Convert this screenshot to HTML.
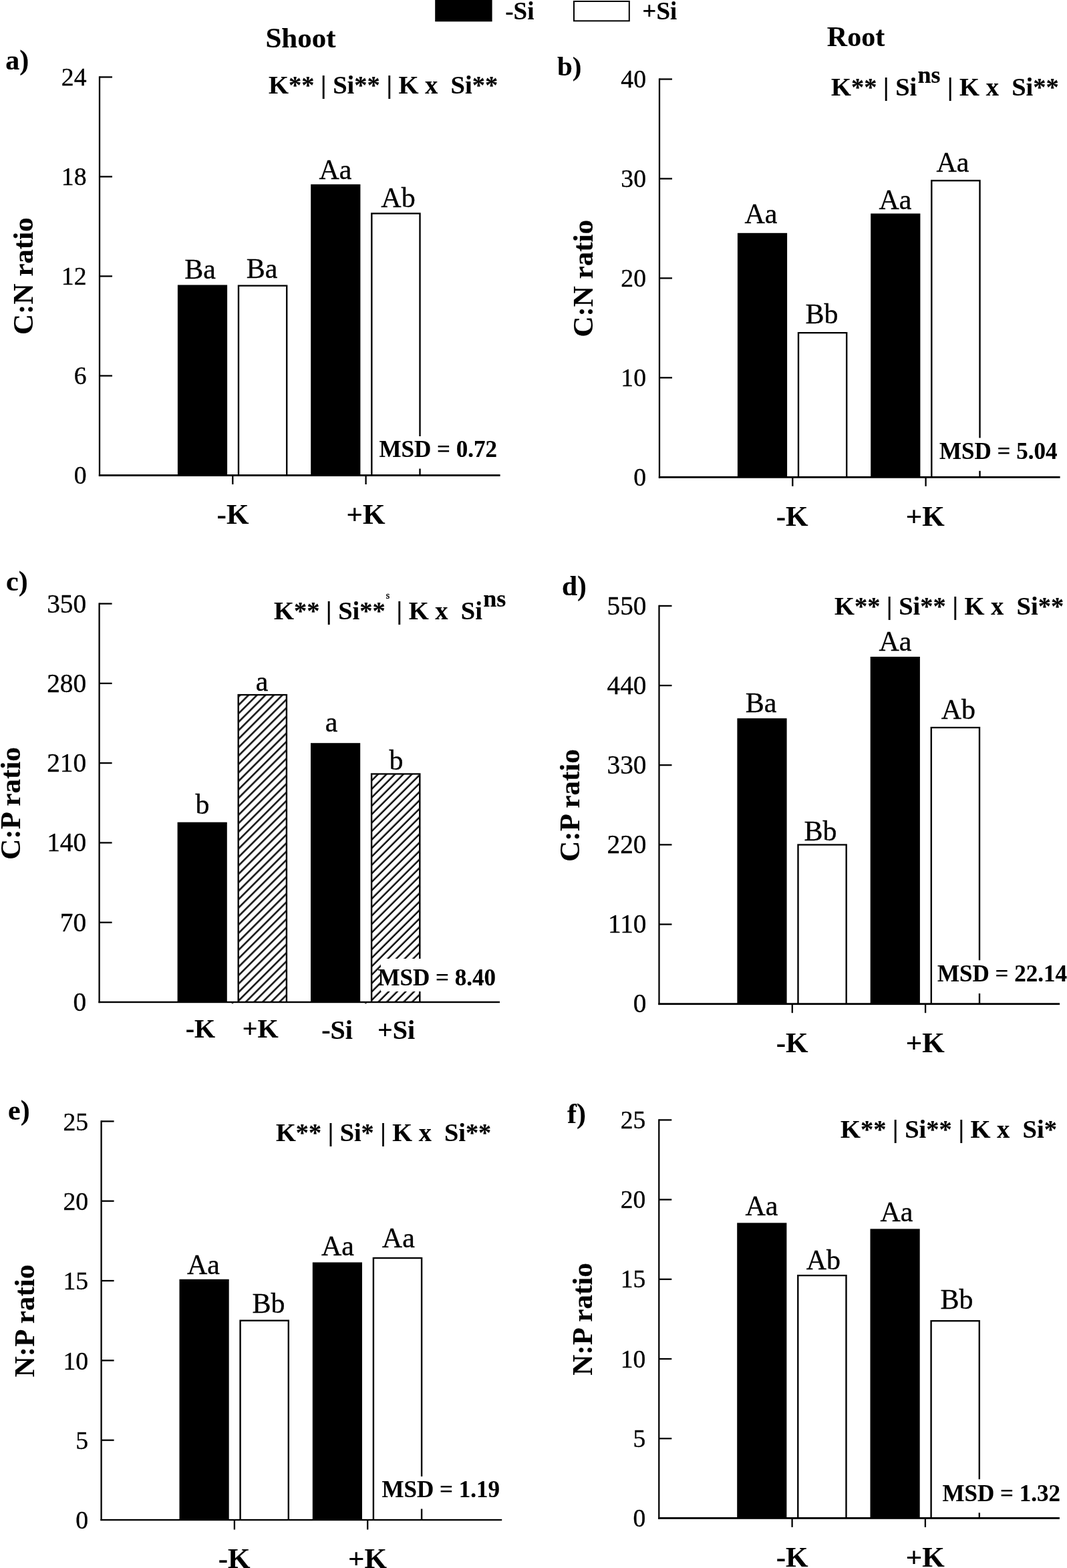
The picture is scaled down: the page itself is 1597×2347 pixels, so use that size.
<!DOCTYPE html>
<html lang="en">
<head>
<meta charset="utf-8">
<title>Shoot and root C:N, C:P and N:P ratios</title>
<style>
html,body{margin:0;padding:0;background:#fff;}
body{width:1597px;height:2347px;overflow:hidden;}
svg{display:block;}
text{font-family:"Liberation Serif", "Times New Roman", serif;fill:#000;stroke:#000;stroke-width:0.35px;stroke-linejoin:round;}
text[font-weight=bold]{stroke-width:0.15px;}
text[font-weight=bold] tspan[font-weight=normal]{stroke-width:0.35px;}
</style>
</head>
<body>
<svg width="1597" height="2347" viewBox="0 0 1597 2347">
<defs>
<pattern id="hatch0" patternUnits="userSpaceOnUse" width="12" height="8.94" patternTransform="rotate(-45)"><rect width="12" height="8.94" fill="#fff"/><rect y="5.2" width="12" height="2.4" fill="#000"/></pattern>
<pattern id="hatch1" patternUnits="userSpaceOnUse" width="12" height="8.94" patternTransform="rotate(-45)"><rect width="12" height="8.94" fill="#fff"/><rect y="2.5" width="12" height="2.4" fill="#000"/></pattern>
</defs>
<rect width="1597" height="2347" fill="#fff"/>
<g id="legend">
<rect x="651.2" y="0" width="85.4" height="32.3" fill="#000"/>
<rect x="859" y="2" width="82.8" height="29.3" fill="#fff" stroke="#000" stroke-width="2"/>
<text x="756.3" y="29" font-size="37" font-weight="bold">-Si</text>
<text x="961.3" y="29" font-size="37" font-weight="bold">+Si</text>
</g>
<text x="450" y="71" font-size="43" font-weight="bold" text-anchor="middle">Shoot</text>
<text x="1281" y="69" font-size="42" font-weight="bold" text-anchor="middle">Root</text>
<g id="panel-a">
<rect x="265.9" y="426.5" width="74.2" height="285" fill="#000"/>
<rect x="355.8" y="426.5" width="74.6" height="285" fill="#000"/>
<rect x="358.2" y="428.8" width="69.8" height="282.7" fill="#fff"/>
<rect x="465.2" y="275.9" width="74.2" height="435.6" fill="#000"/>
<rect x="555.1" y="318.4" width="74.6" height="393.1" fill="#000"/>
<rect x="557.5" y="320.7" width="69.8" height="390.8" fill="#fff"/>
<rect x="568" y="653" width="177" height="48.5" fill="#fff"/>
<rect x="147.85" y="114.25" width="2.3" height="598.65" fill="#000"/>
<rect x="147.85" y="710.1" width="600.75" height="2.8" fill="#000"/>
<rect x="149" y="114.25" width="19" height="2.3" fill="#000"/>
<text x="129.5" y="128" font-size="37.7" text-anchor="end">24</text>
<rect x="149" y="263.28" width="19" height="2.3" fill="#000"/>
<text x="129.5" y="277.03" font-size="37.7" text-anchor="end">18</text>
<rect x="149" y="412.3" width="19" height="2.3" fill="#000"/>
<text x="129.5" y="426.05" font-size="37.7" text-anchor="end">12</text>
<rect x="149" y="561.33" width="19" height="2.3" fill="#000"/>
<text x="129.5" y="575.08" font-size="37.7" text-anchor="end">6</text>
<text x="129.5" y="724.1" font-size="37.7" text-anchor="end">0</text>
<rect x="347.15" y="711.5" width="2.3" height="13.5" fill="#000"/>
<rect x="546.45" y="711.5" width="2.3" height="13.5" fill="#000"/>
<text x="348.5" y="784.2" font-size="43" font-weight="bold" text-anchor="middle">-K</text>
<text x="547.6" y="784.2" font-size="43" font-weight="bold" text-anchor="middle">+K</text>
<text x="299.5" y="417.1" font-size="42" text-anchor="middle">Ba</text>
<text x="392" y="416" font-size="42" text-anchor="middle">Ba</text>
<text x="502" y="268" font-size="42" text-anchor="middle">Aa</text>
<text x="596" y="310" font-size="42" text-anchor="middle">Ab</text>
<text x="8.2" y="104" font-size="42" font-weight="bold">a)</text>
<text transform="translate(49,413.2) rotate(-90)" font-size="43" font-weight="bold" text-anchor="middle">C:N ratio</text>
<text x="402" y="140" font-size="38.5" font-weight="bold" xml:space="preserve" style="white-space:pre">K** | Si** | K x  Si**</text>
<text x="744" y="684" font-size="35" font-weight="bold" text-anchor="end">MSD = 0.72</text>
</g>
<g id="panel-b">
<rect x="1103.9" y="348.8" width="74.2" height="365.5" fill="#000"/>
<rect x="1193.8" y="497" width="74.6" height="217.3" fill="#000"/>
<rect x="1196.2" y="499.3" width="69.8" height="215" fill="#fff"/>
<rect x="1303.2" y="319.6" width="74.2" height="394.7" fill="#000"/>
<rect x="1393.1" y="269.2" width="74.6" height="445.1" fill="#000"/>
<rect x="1395.5" y="271.5" width="69.8" height="442.8" fill="#fff"/>
<rect x="1405" y="655.5" width="179" height="49.3" fill="#fff"/>
<rect x="985.85" y="117.35" width="2.3" height="598.35" fill="#000"/>
<rect x="985.85" y="712.9" width="600.75" height="2.8" fill="#000"/>
<rect x="987" y="117.35" width="19" height="2.3" fill="#000"/>
<text x="967" y="131.1" font-size="37.7" text-anchor="end">40</text>
<rect x="987" y="266.3" width="19" height="2.3" fill="#000"/>
<text x="967" y="280.05" font-size="37.7" text-anchor="end">30</text>
<rect x="987" y="415.25" width="19" height="2.3" fill="#000"/>
<text x="967" y="429" font-size="37.7" text-anchor="end">20</text>
<rect x="987" y="564.2" width="19" height="2.3" fill="#000"/>
<text x="967" y="577.95" font-size="37.7" text-anchor="end">10</text>
<text x="967" y="726.9" font-size="37.7" text-anchor="end">0</text>
<rect x="1185.15" y="714.3" width="2.3" height="13.5" fill="#000"/>
<rect x="1384.45" y="714.3" width="2.3" height="13.5" fill="#000"/>
<text x="1185.6" y="787.2" font-size="43" font-weight="bold" text-anchor="middle">-K</text>
<text x="1384.8" y="787.2" font-size="43" font-weight="bold" text-anchor="middle">+K</text>
<text x="1139" y="334" font-size="42" text-anchor="middle">Aa</text>
<text x="1230" y="484" font-size="42" text-anchor="middle">Bb</text>
<text x="1340" y="313" font-size="42" text-anchor="middle">Aa</text>
<text x="1426" y="257" font-size="42" text-anchor="middle">Aa</text>
<text x="834" y="112.7" font-size="41" font-weight="bold">b)</text>
<text transform="translate(887.2,416.8) rotate(-90)" font-size="43" font-weight="bold" text-anchor="middle">C:N ratio</text>
<text x="1244" y="142.7" font-size="38.5" font-weight="bold" xml:space="preserve" style="white-space:pre">K** | Si<tspan dx="1.3" dy="-19" font-size="36">ns</tspan><tspan dx="0.7" dy="19"> | K x  Si**</tspan></text>
<text x="1582.4" y="687" font-size="35" font-weight="bold" text-anchor="end">MSD = 5.04</text>
</g>
<g id="panel-c">
<rect x="265.6" y="1230.7" width="74.2" height="269.3" fill="#000"/>
<rect x="355.5" y="1038.9" width="74.6" height="461.1" fill="#000"/>
<rect x="357.9" y="1041.2" width="69.8" height="458.8" fill="url(#hatch0)"/>
<rect x="465" y="1112.2" width="74.2" height="387.8" fill="#000"/>
<rect x="554.9" y="1157.3" width="74.6" height="342.7" fill="#000"/>
<rect x="557.3" y="1159.6" width="69.8" height="340.4" fill="url(#hatch1)"/>
<rect x="570" y="1435" width="175" height="49" fill="#fff"/>
<rect x="147.45" y="902.45" width="2.3" height="598.75" fill="#000"/>
<rect x="147.45" y="1498.8" width="600.55" height="2.4" fill="#000"/>
<rect x="148.6" y="902.45" width="19" height="2.3" fill="#000"/>
<text x="129.1" y="916.5" font-size="39.3" text-anchor="end">350</text>
<rect x="148.6" y="1021.73" width="19" height="2.3" fill="#000"/>
<text x="129.1" y="1035.78" font-size="39.3" text-anchor="end">280</text>
<rect x="148.6" y="1141.01" width="19" height="2.3" fill="#000"/>
<text x="129.1" y="1155.06" font-size="39.3" text-anchor="end">210</text>
<rect x="148.6" y="1260.29" width="19" height="2.3" fill="#000"/>
<text x="129.1" y="1274.34" font-size="39.3" text-anchor="end">140</text>
<rect x="148.6" y="1379.57" width="19" height="2.3" fill="#000"/>
<text x="129.1" y="1393.62" font-size="39.3" text-anchor="end">70</text>
<text x="129.1" y="1512.9" font-size="39.3" text-anchor="end">0</text>
<rect x="346.85" y="1500" width="2.3" height="2.2" fill="#000"/>
<rect x="546.25" y="1500" width="2.3" height="2.2" fill="#000"/>
<text x="300" y="1552.5" font-size="40" font-weight="bold" text-anchor="middle">-K</text>
<text x="389.7" y="1552.5" font-size="40" font-weight="bold" text-anchor="middle">+K</text>
<text x="504.6" y="1555.3" font-size="40" font-weight="bold" text-anchor="middle">-Si</text>
<text x="593" y="1555.3" font-size="40" font-weight="bold" text-anchor="middle">+Si</text>
<text x="303" y="1218" font-size="42" text-anchor="middle">b</text>
<text x="392" y="1033.5" font-size="42" text-anchor="middle">a</text>
<text x="496" y="1094.8" font-size="42" text-anchor="middle">a</text>
<text x="593" y="1152.3" font-size="42" text-anchor="middle">b</text>
<text x="9" y="883.5" font-size="42" font-weight="bold">c)</text>
<text transform="translate(30,1202.5) rotate(-90)" font-size="43" font-weight="bold" text-anchor="middle">C:P ratio</text>
<text x="410" y="927" font-size="38.5" font-weight="bold" xml:space="preserve" style="white-space:pre">K** | Si**<tspan dx="0.8" dy="-31" font-size="15" font-weight="normal">s</tspan><tspan dx="0.5" dy="31"> | K x  Si</tspan><tspan dx="1.3" dy="-19" font-size="36">ns</tspan></text>
<text x="742" y="1474.8" font-size="35" font-weight="bold" text-anchor="end">MSD = 8.40</text>
</g>
<g id="panel-d">
<rect x="1103.4" y="1075.2" width="74.2" height="427.5" fill="#000"/>
<rect x="1193.3" y="1263.3" width="74.6" height="239.4" fill="#000"/>
<rect x="1195.7" y="1265.6" width="69.8" height="237.1" fill="#fff"/>
<rect x="1302.7" y="983" width="74.2" height="519.7" fill="#000"/>
<rect x="1392.6" y="1087.9" width="74.6" height="414.8" fill="#000"/>
<rect x="1395" y="1090.2" width="69.8" height="412.5" fill="#fff"/>
<rect x="1405" y="1437.3" width="192" height="49.7" fill="#fff"/>
<rect x="985.35" y="905.75" width="2.3" height="598.35" fill="#000"/>
<rect x="985.35" y="1501.3" width="600.75" height="2.8" fill="#000"/>
<rect x="986.5" y="905.75" width="19" height="2.3" fill="#000"/>
<text x="967.5" y="919.6" font-size="39.3" text-anchor="end">550</text>
<rect x="986.5" y="1024.91" width="19" height="2.3" fill="#000"/>
<text x="967.5" y="1038.76" font-size="39.3" text-anchor="end">440</text>
<rect x="986.5" y="1144.07" width="19" height="2.3" fill="#000"/>
<text x="967.5" y="1157.92" font-size="39.3" text-anchor="end">330</text>
<rect x="986.5" y="1263.23" width="19" height="2.3" fill="#000"/>
<text x="967.5" y="1277.08" font-size="39.3" text-anchor="end">220</text>
<rect x="986.5" y="1382.39" width="19" height="2.3" fill="#000"/>
<text x="967.5" y="1396.24" font-size="39.3" text-anchor="end">110</text>
<text x="967.5" y="1515.4" font-size="39.3" text-anchor="end">0</text>
<rect x="1184.65" y="1502.7" width="2.3" height="13.5" fill="#000"/>
<rect x="1383.95" y="1502.7" width="2.3" height="13.5" fill="#000"/>
<text x="1185.6" y="1574.6" font-size="43" font-weight="bold" text-anchor="middle">-K</text>
<text x="1384.8" y="1574.6" font-size="43" font-weight="bold" text-anchor="middle">+K</text>
<text x="1139" y="1066" font-size="42" text-anchor="middle">Ba</text>
<text x="1228" y="1258" font-size="42" text-anchor="middle">Bb</text>
<text x="1340" y="974" font-size="42" text-anchor="middle">Aa</text>
<text x="1434.3" y="1076" font-size="42" text-anchor="middle">Ab</text>
<text x="841" y="890.7" font-size="41.5" font-weight="bold">d)</text>
<text transform="translate(867.2,1205.5) rotate(-90)" font-size="43" font-weight="bold" text-anchor="middle">C:P ratio</text>
<text x="1249" y="920" font-size="38.5" font-weight="bold" xml:space="preserve" style="white-space:pre">K** | Si** | K x  Si**</text>
<text x="1597" y="1469" font-size="35" font-weight="bold" text-anchor="end">MSD = 22.14</text>
</g>
<g id="panel-e">
<rect x="268.5" y="1914.8" width="74.2" height="360.2" fill="#000"/>
<rect x="358.4" y="1975.5" width="74.6" height="299.5" fill="#000"/>
<rect x="360.8" y="1977.8" width="69.8" height="297.2" fill="#fff"/>
<rect x="467.8" y="1889.5" width="74.2" height="385.5" fill="#000"/>
<rect x="557.7" y="1881.9" width="74.6" height="393.1" fill="#000"/>
<rect x="560.1" y="1884.2" width="69.8" height="390.8" fill="#fff"/>
<rect x="570" y="2210" width="179" height="48.5" fill="#fff"/>
<rect x="150.45" y="1677.25" width="2.3" height="598.9" fill="#000"/>
<rect x="150.45" y="2273.85" width="600.75" height="2.3" fill="#000"/>
<rect x="151.6" y="1677.25" width="19" height="2.3" fill="#000"/>
<text x="132.1" y="1691.7" font-size="37.7" text-anchor="end">25</text>
<rect x="151.6" y="1796.57" width="19" height="2.3" fill="#000"/>
<text x="132.1" y="1811.02" font-size="37.7" text-anchor="end">20</text>
<rect x="151.6" y="1915.89" width="19" height="2.3" fill="#000"/>
<text x="132.1" y="1930.34" font-size="37.7" text-anchor="end">15</text>
<rect x="151.6" y="2035.21" width="19" height="2.3" fill="#000"/>
<text x="132.1" y="2049.66" font-size="37.7" text-anchor="end">10</text>
<rect x="151.6" y="2154.53" width="19" height="2.3" fill="#000"/>
<text x="132.1" y="2168.98" font-size="37.7" text-anchor="end">5</text>
<text x="132.1" y="2288.3" font-size="37.7" text-anchor="end">0</text>
<rect x="349.75" y="2275" width="2.3" height="14.5" fill="#000"/>
<rect x="549.05" y="2275" width="2.3" height="14.5" fill="#000"/>
<text x="350.7" y="2347" font-size="43" font-weight="bold" text-anchor="middle">-K</text>
<text x="550" y="2347" font-size="43" font-weight="bold" text-anchor="middle">+K</text>
<text x="304.5" y="1907" font-size="42" text-anchor="middle">Aa</text>
<text x="402" y="1965" font-size="42" text-anchor="middle">Bb</text>
<text x="505.5" y="1879" font-size="42" text-anchor="middle">Aa</text>
<text x="596.3" y="1866.5" font-size="42" text-anchor="middle">Aa</text>
<text x="12" y="1676" font-size="42" font-weight="bold">e)</text>
<text transform="translate(51.2,1977) rotate(-90)" font-size="43" font-weight="bold" text-anchor="middle">N:P ratio</text>
<text x="413" y="1708.3" font-size="38.3" font-weight="bold" xml:space="preserve" style="white-space:pre">K** | Si* | K x  Si**</text>
<text x="748" y="2241" font-size="35" font-weight="bold" text-anchor="end">MSD = 1.19</text>
</g>
<g id="panel-f">
<rect x="1103.2" y="1830.4" width="74.2" height="442" fill="#000"/>
<rect x="1193.1" y="1908" width="74.6" height="364.4" fill="#000"/>
<rect x="1195.5" y="1910.3" width="69.8" height="362.1" fill="#fff"/>
<rect x="1302.5" y="1839.4" width="74.2" height="433" fill="#000"/>
<rect x="1392.4" y="1976" width="74.6" height="296.4" fill="#000"/>
<rect x="1394.8" y="1978.3" width="69.8" height="294.1" fill="#fff"/>
<rect x="1408" y="2214.2" width="180" height="50.1" fill="#fff"/>
<rect x="985.15" y="1675.25" width="2.3" height="598.55" fill="#000"/>
<rect x="985.15" y="2271" width="600.75" height="2.8" fill="#000"/>
<rect x="986.3" y="1675.25" width="19" height="2.3" fill="#000"/>
<text x="966.4" y="1688.9" font-size="37.6" text-anchor="end">25</text>
<rect x="986.3" y="1794.45" width="19" height="2.3" fill="#000"/>
<text x="966.4" y="1808.1" font-size="37.6" text-anchor="end">20</text>
<rect x="986.3" y="1913.65" width="19" height="2.3" fill="#000"/>
<text x="966.4" y="1927.3" font-size="37.6" text-anchor="end">15</text>
<rect x="986.3" y="2032.85" width="19" height="2.3" fill="#000"/>
<text x="966.4" y="2046.5" font-size="37.6" text-anchor="end">10</text>
<rect x="986.3" y="2152.05" width="19" height="2.3" fill="#000"/>
<text x="966.4" y="2165.7" font-size="37.6" text-anchor="end">5</text>
<text x="966.4" y="2284.9" font-size="37.6" text-anchor="end">0</text>
<rect x="1184.45" y="2272.4" width="2.3" height="13.5" fill="#000"/>
<rect x="1383.75" y="2272.4" width="2.3" height="13.5" fill="#000"/>
<text x="1185.6" y="2344.8" font-size="43" font-weight="bold" text-anchor="middle">-K</text>
<text x="1384.8" y="2344.8" font-size="43" font-weight="bold" text-anchor="middle">+K</text>
<text x="1140" y="1819" font-size="42" text-anchor="middle">Aa</text>
<text x="1232.3" y="1900" font-size="42" text-anchor="middle">Ab</text>
<text x="1342" y="1828" font-size="42" text-anchor="middle">Aa</text>
<text x="1432" y="1959" font-size="42" text-anchor="middle">Bb</text>
<text x="849" y="1680.7" font-size="42" font-weight="bold">f)</text>
<text transform="translate(886,1974.5) rotate(-90)" font-size="43" font-weight="bold" text-anchor="middle">N:P ratio</text>
<text x="1258" y="1703" font-size="38.5" font-weight="bold" xml:space="preserve" style="white-space:pre">K** | Si** | K x  Si*</text>
<text x="1587" y="2247" font-size="35" font-weight="bold" text-anchor="end">MSD = 1.32</text>
</g>
</svg>
</body>
</html>
